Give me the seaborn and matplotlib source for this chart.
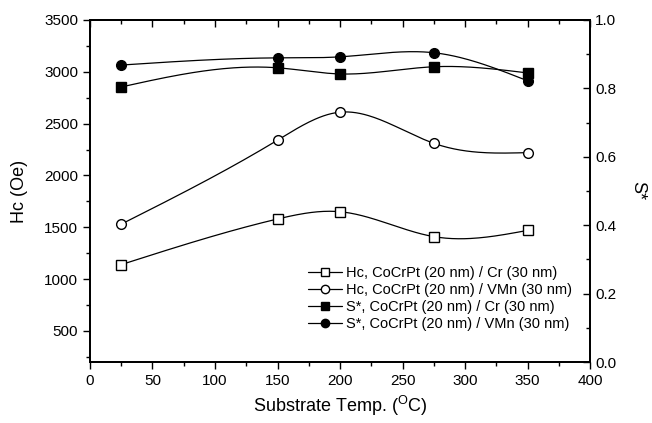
import numpy as np
import pandas as pd
import seaborn as sns
import matplotlib
matplotlib.use("Agg")
import matplotlib.pyplot as plt
from matplotlib.lines import Line2D
from matplotlib.ticker import MultipleLocator, NullFormatter

temps = [25, 150, 200, 275, 350]
hc_cr = [1140, 1580, 1650, 1410, 1470]
hc_vmn = [1530, 2340, 2610, 2310, 2220]
s_cr = [0.804, 0.860, 0.842, 0.863, 0.845]
s_vmn = [0.868, 0.889, 0.892, 0.904, 0.822]

labels = ["Hc, CoCrPt (20 nm) / Cr (30 nm)",
          "Hc, CoCrPt (20 nm) / VMn (30 nm)",
          "S*, CoCrPt (20 nm) / Cr (30 nm)",
          "S*, CoCrPt (20 nm) / VMn (30 nm)"]


def smooth(x, y, n=200):
    # natural cubic spline through the points
    x = np.asarray(x, float)
    y = np.asarray(y, float)
    k = len(x)
    h = np.diff(x)
    A = np.zeros((k, k))
    b = np.zeros(k)
    A[0, 0] = A[-1, -1] = 1
    for i in range(1, k - 1):
        A[i, i - 1] = h[i - 1]
        A[i, i] = 2 * (h[i - 1] + h[i])
        A[i, i + 1] = h[i]
        b[i] = 6 * ((y[i + 1] - y[i]) / h[i] - (y[i] - y[i - 1]) / h[i - 1])
    m = np.linalg.solve(A, b)
    xs = np.linspace(x[0], x[-1], n)
    idx = np.clip(np.searchsorted(x, xs) - 1, 0, k - 2)
    x0, x1 = x[idx], x[idx + 1]
    hh = x1 - x0
    t0, t1 = x1 - xs, xs - x0
    ys = (m[idx] * t0**3 / (6 * hh) + m[idx + 1] * t1**3 / (6 * hh)
          + (y[idx] / hh - m[idx] * hh / 6) * t0
          + (y[idx + 1] / hh - m[idx + 1] * hh / 6) * t1)
    return pd.DataFrame({"x": xs, "y": ys})


sns.set_style("ticks", {"text.color": "black", "axes.labelcolor": "black",
                        "xtick.color": "black", "ytick.color": "black",
                        "axes.edgecolor": "black"})
plt.rcParams["font.family"] = ["Liberation Sans", "DejaVu Sans"]

fig = plt.figure(figsize=(6.52, 4.23), dpi=100)
ax = fig.add_axes([0.138, 0.144, 0.767, 0.809])
ax2 = ax.twinx()

lw = 0.9
ms = 7
for ys, mk in [(hc_cr, "s"), (hc_vmn, "o")]:
    sns.lineplot(data=smooth(temps, ys), x="x", y="y", ax=ax, color="black",
                 lw=lw, sort=False)
    ax.plot(temps, ys, ls="none", marker=mk, ms=ms, mfc="white",
            mec="black", mew=1.0, zorder=5)
for ys, mk in [(s_cr, "s"), (s_vmn, "o")]:
    sns.lineplot(data=smooth(temps, ys), x="x", y="y", ax=ax2, color="black",
                 lw=lw, sort=False)
    ax2.plot(temps, ys, ls="none", marker=mk, ms=ms, mfc="black",
             mec="black", zorder=5)

ax.set_xlim(0, 400)
ax.set_ylim(200, 3500)
ax2.set_ylim(0, 1.0)
ax.xaxis.set_major_locator(MultipleLocator(50))
ax.xaxis.set_minor_locator(MultipleLocator(25))
ax.yaxis.set_major_locator(MultipleLocator(500))
ax.yaxis.set_minor_locator(MultipleLocator(250))
ax2.yaxis.set_major_locator(MultipleLocator(0.2))
ax2.yaxis.set_minor_locator(MultipleLocator(0.1))
ax.set_yticks([500, 1000, 1500, 2000, 2500, 3000, 3500])

ax.tick_params(axis="both", which="major", labelsize=11, width=1.0, length=5,
               direction="out")
ax.tick_params(axis="both", which="minor", width=1.0, length=3, direction="out")
ax2.tick_params(axis="y", which="major", labelsize=11, width=1.0, length=5,
                direction="in")
ax2.tick_params(axis="y", which="minor", width=1.0, length=3, direction="in")

top = ax.secondary_xaxis("top")
top.xaxis.set_major_locator(MultipleLocator(50))
top.xaxis.set_minor_locator(MultipleLocator(25))
top.xaxis.set_major_formatter(NullFormatter())
top.tick_params(which="major", direction="in", length=5, width=1.0)
top.tick_params(which="minor", direction="in", length=3, width=1.0)

for a in (ax, ax2, top):
    for s in a.spines.values():
        s.set_linewidth(1.3)
        s.set_visible(True)

ax.set_xlabel(r"Substrate Temp. ($^\mathregular{O}$C)", fontsize=13)
ax.set_ylabel("Hc (Oe)", fontsize=13, labelpad=12)
ax2.set_ylabel("S*", fontsize=13, rotation=270, labelpad=22)

handles = [
    Line2D([], [], color="black", lw=lw, marker="s", ms=6, mfc="white", mec="black"),
    Line2D([], [], color="black", lw=lw, marker="o", ms=6, mfc="white", mec="black"),
    Line2D([], [], color="black", lw=lw, marker="s", ms=6, mfc="black", mec="black"),
    Line2D([], [], color="black", lw=lw, marker="o", ms=6, mfc="black", mec="black"),
]
ax.legend(handles, labels, loc="lower right", bbox_to_anchor=(0.985, 0.06),
          frameon=False, fontsize=10.5, handlelength=2.3, handletextpad=0.3,
          labelspacing=0.22, borderaxespad=0.3)

fig.savefig("out.png", dpi=100)
